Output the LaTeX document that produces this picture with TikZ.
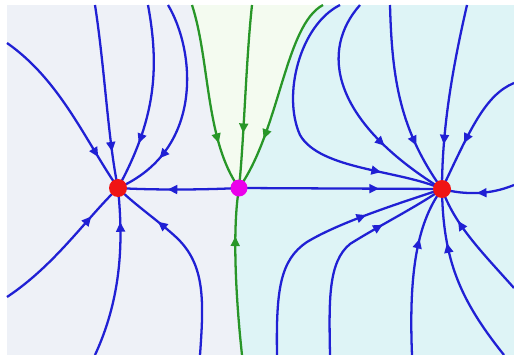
\documentclass[tikz,border=0pt]{standalone}
\usepackage{tikz}
\usetikzlibrary{
  arrows.meta,
  decorations.markings,
  backgrounds
}
\definecolor{flowblue}{RGB}{32,32,212}
\definecolor{sepgreen}{RGB}{40,150,40}
\definecolor{sinkred}{RGB}{240,20,20}
\definecolor{saddlemag}{RGB}{235,0,235}
\definecolor{basinleft}{RGB}{238,241,247}
\definecolor{basinright}{RGB}{222,244,246}
\definecolor{basinmid}{RGB}{244,251,240}
\pgfdeclarelayer{flow}
\pgfsetlayers{background,flow,main}
\tikzset{
  flowline/.style={draw=flowblue, line width=1.3pt},
  sepline/.style={draw=sepgreen, line width=1.3pt},
  arrowat/.style={postaction={decorate}, decoration={markings,
    mark=at position #1 with {\arrow{Triangle[length=5.5pt,width=5pt]}}}},
  sinkdot/.style={circle, fill=sinkred, minimum size=0.36cm, inner sep=0pt},
  saddledot/.style={circle, fill=saddlemag, minimum size=0.34cm, inner sep=0pt},
}

\begin{document}
\begin{tikzpicture}[x=0.02cm, y=-0.02cm]
  \useasboundingbox (0,0) rectangle (514,355);

  % Equilibria
  \node[sinkdot] (sinkL) at (118,188) {};
  \node[saddledot] (saddle) at (239,188) {};
  \node[sinkdot] (sinkR) at (442,189) {};

  % Free ends of the orbits
  \coordinate (l1) at (7,43);
  \coordinate (l2) at (95,5);
  \coordinate (l3) at (148,5);
  \coordinate (l4) at (168,5);
  \coordinate (l5) at (7,297);
  \coordinate (l6) at (95,355);
  \coordinate (l7) at (200,355);
  \coordinate (r1) at (340,5);
  \coordinate (r2) at (360,5);
  \coordinate (r3) at (390,5);
  \coordinate (r4) at (467,5);
  \coordinate (r5) at (514,83);
  \coordinate (r6) at (514,185);
  \coordinate (r7) at (277,355);
  \coordinate (r8) at (330,355);
  \coordinate (r9) at (412,355);
  \coordinate (r10) at (504,355);
  \coordinate (r11) at (514,288);
  \coordinate (g1) at (192,5);
  \coordinate (g2) at (252,5);
  \coordinate (g3) at (323,5);
  \coordinate (g4) at (242,355);

  % Basins
  \begin{scope}[on background layer]
    \fill[basinleft] (7,5) rectangle (514,355);
    \fill[basinright] (g3) .. controls (285,25) and (280,130) .. (saddle.center)
      .. controls (232,230) and (236,300) .. (g4) -- (514,355) -- (514,5) -- cycle;
    \fill[basinmid] (g1) .. controls (210,60) and (205,140) .. (saddle.center)
      .. controls (280,130) and (285,25) .. (g3) -- cycle;
  \end{scope}

  \begin{pgfonlayer}{flow}
  % Left basin
  \draw[flowline, arrowat=0.80] (l1) .. controls (60,80) and (85,140) .. (sinkL.center);
  \draw[flowline, arrowat=0.80] (l2) .. controls (105,70) and (108,140) .. (sinkL.center);
  \draw[flowline, arrowat=0.74] (l3) .. controls (160,70) and (155,120) .. (sinkL.center);
  \draw[flowline, arrowat=0.76] (l4) .. controls (195,50) and (205,150) .. (sinkL.center);
  \draw[flowline, arrowat=0.75] (l5) .. controls (55,265) and (85,220) .. (sinkL.center);
  \draw[flowline, arrowat=0.80] (l6) .. controls (125,290) and (122,230) .. (sinkL.center);
  \draw[flowline, arrowat=0.74] (l7) .. controls (204,300) and (205,265) .. (177,238)
    .. controls (160,222) and (135,205) .. (sinkL.center);

  % Right basin
  \draw[flowline, arrowat=0.79] (r1) .. controls (300,25) and (282,95) .. (300,135)
    .. controls (320,170) and (400,170) .. (sinkR.center);
  \draw[flowline, arrowat=0.69] (r2) .. controls (320,50) and (330,120) .. (sinkR.center);
  \draw[flowline, arrowat=0.74] (r3) .. controls (392,80) and (400,130) .. (sinkR.center);
  \draw[flowline, arrowat=0.76] (r4) .. controls (452,70) and (442,130) .. (sinkR.center);
  \draw[flowline, arrowat=0.61] (r5) .. controls (485,95) and (470,130) .. (sinkR.center);
  \draw[flowline, arrowat=0.52] (r6) .. controls (490,195) and (465,195) .. (sinkR.center);
  \draw[flowline, arrowat=0.70] (r7) .. controls (276,290) and (280,260) .. (307,242)
    .. controls (340,222) and (400,203) .. (sinkR.center);
  \draw[flowline, arrowat=0.69] (r8) .. controls (329,300) and (328,262) .. (350,244)
    .. controls (375,228) and (420,205) .. (sinkR.center);
  \draw[flowline, arrowat=0.68] (r9) .. controls (409,280) and (415,225) .. (sinkR.center);
  \draw[flowline, arrowat=0.70] (r10) .. controls (460,300) and (443,260) .. (sinkR.center);
  \draw[flowline, arrowat=0.71] (r11) .. controls (480,250) and (455,225) .. (sinkR.center);

  % Unstable manifold of the saddle
  \draw[flowline, arrowat=0.59] (saddle.center) .. controls (200,190) and (150,190) .. (sinkL.center);
  \draw[flowline, arrowat=0.69] (saddle.center) -- (sinkR.center);

  % Separatrices
  \draw[sepline, arrowat=0.74] (g1) .. controls (210,60) and (205,140) .. (saddle.center);
  \draw[sepline, arrowat=0.70] (g2) .. controls (246,60) and (244,140) .. (saddle.center);
  \draw[sepline, arrowat=0.73] (g3) .. controls (285,25) and (280,130) .. (saddle.center);
  \draw[sepline, arrowat=0.71] (g4) .. controls (236,300) and (232,230) .. (saddle.center);
  \end{pgfonlayer}
\end{tikzpicture}
\end{document}
